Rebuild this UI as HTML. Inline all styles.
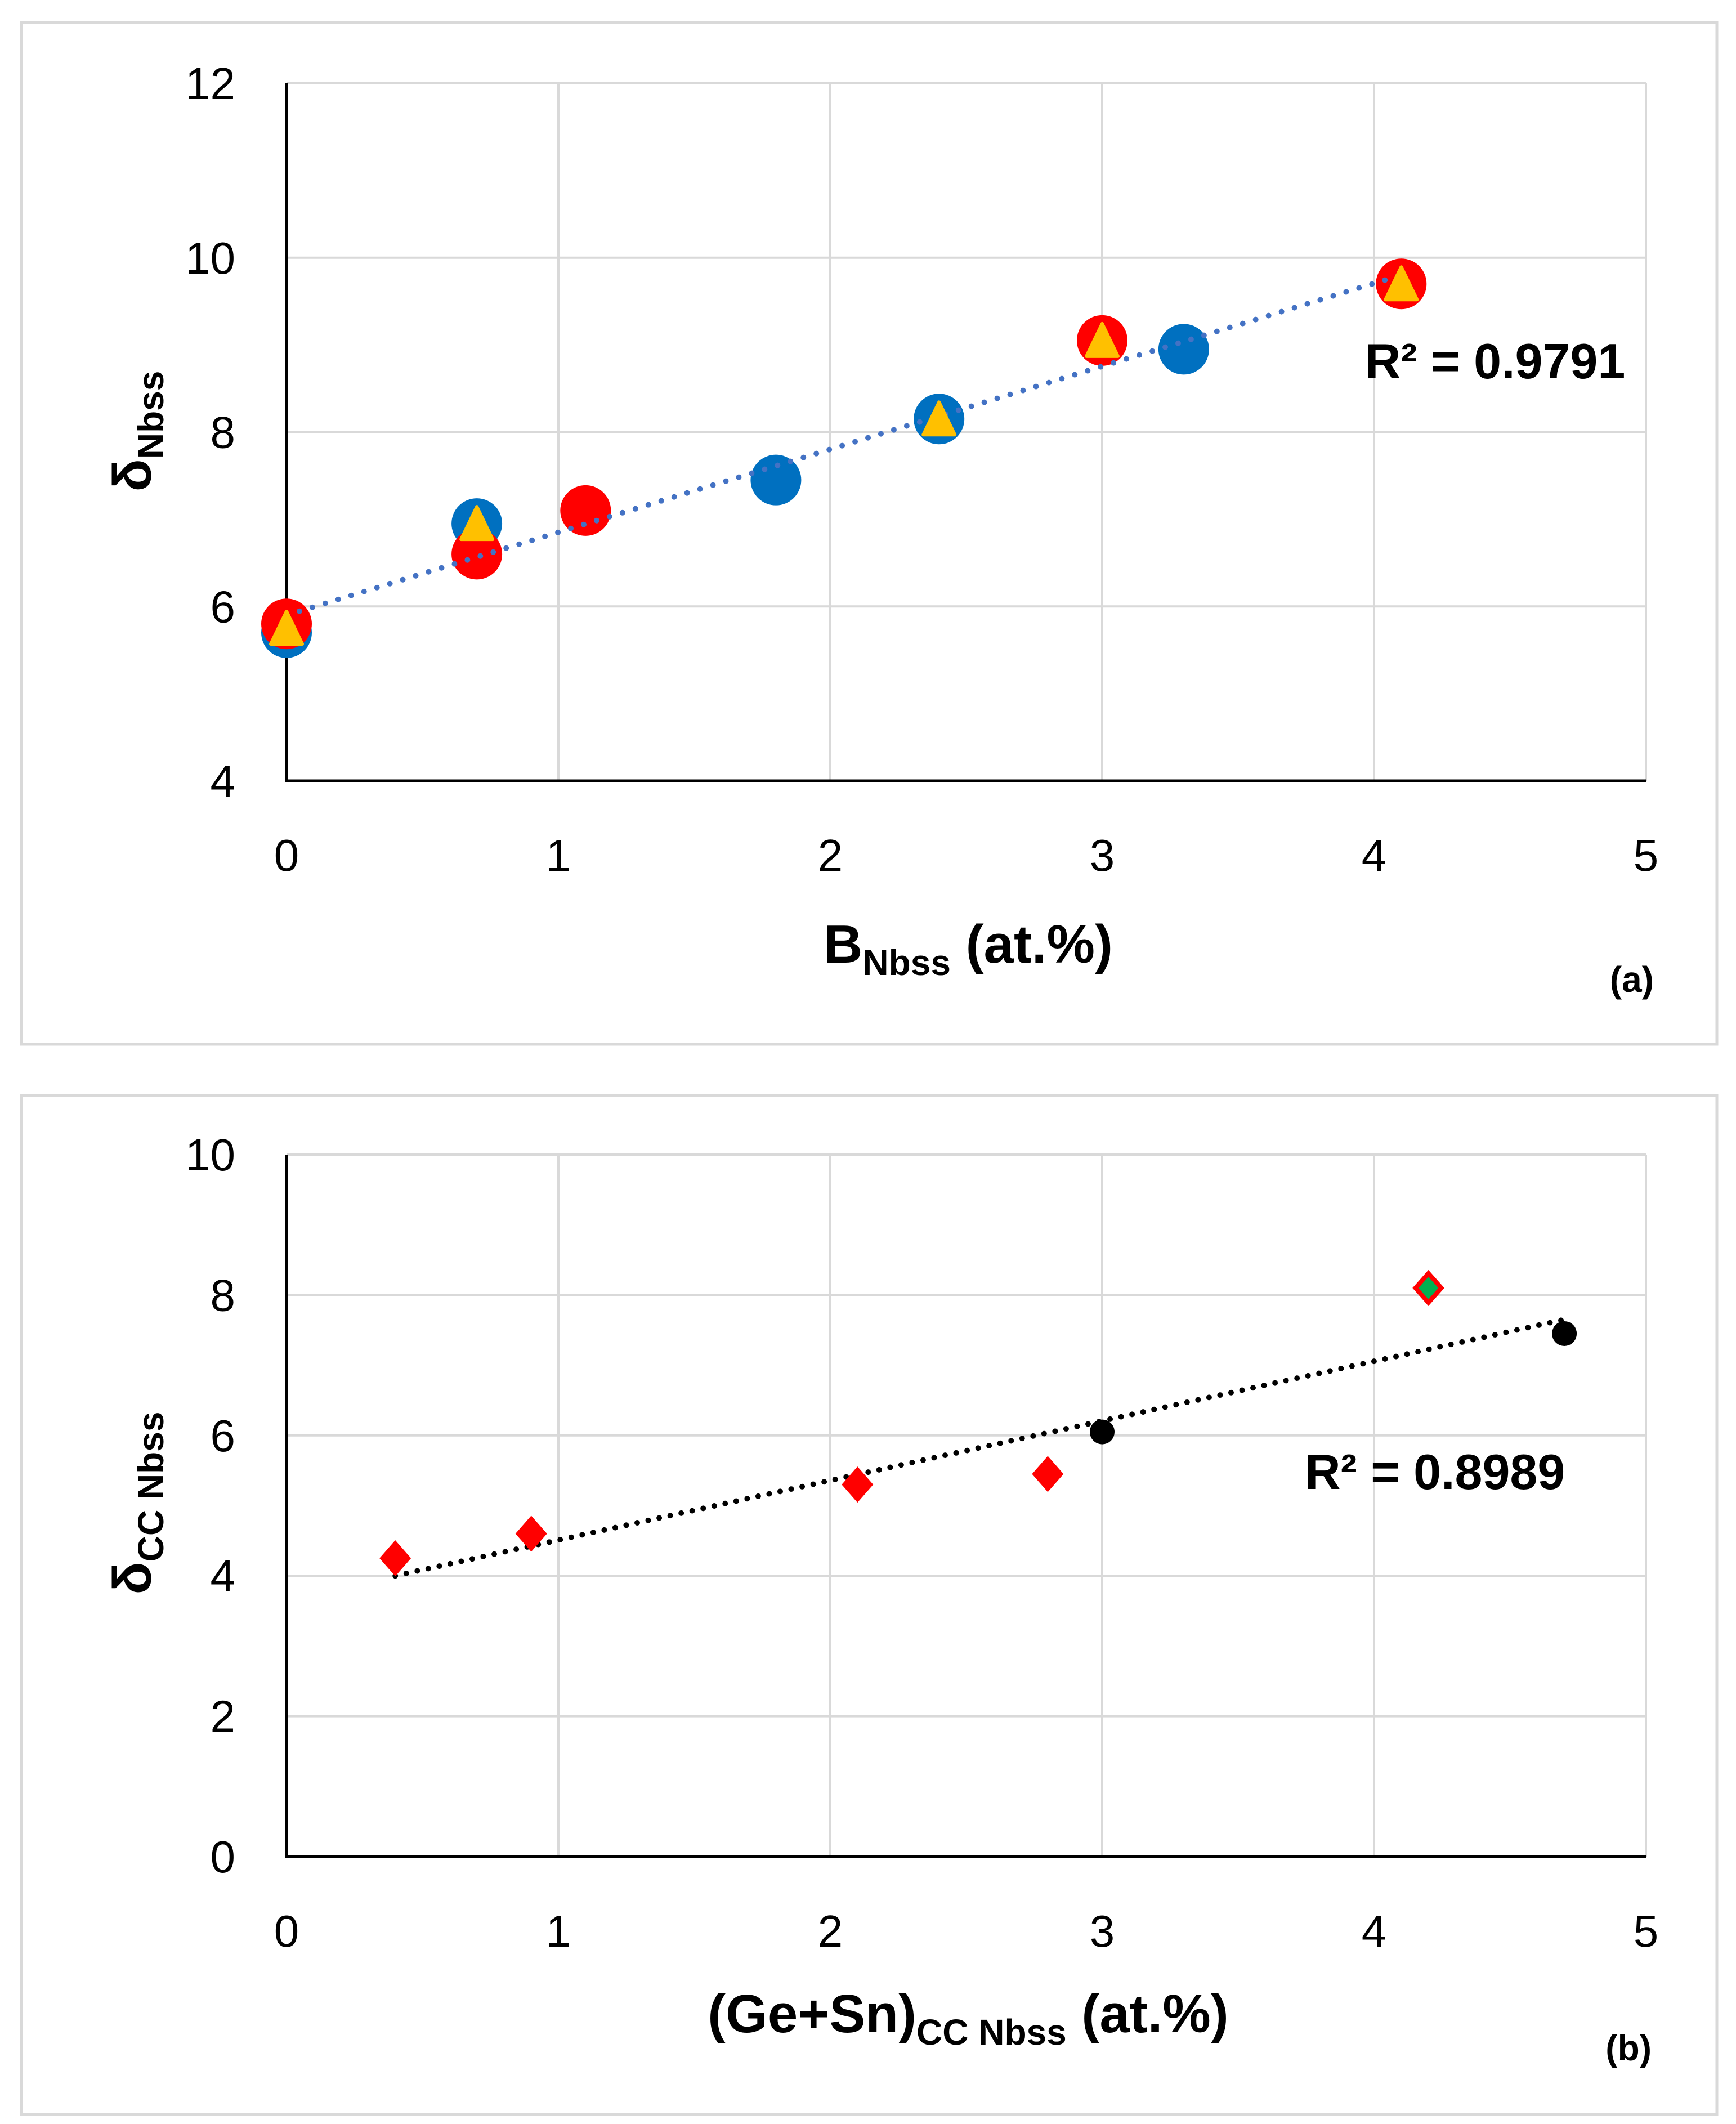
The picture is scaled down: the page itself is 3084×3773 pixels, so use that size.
<!DOCTYPE html>
<html><head><meta charset="utf-8"><style>
body{margin:0;background:#fff}
svg{display:block}
text{font-family:"Liberation Sans",sans-serif;fill:#000}
</style></head><body>
<svg id="s" width="3084" height="3773" xmlns="http://www.w3.org/2000/svg">
<rect x="38" y="40" width="3012" height="1815" fill="#fff" stroke="#d9d9d9" stroke-width="5"/>
<rect x="38" y="1946" width="3012" height="1810" fill="#fff" stroke="#d9d9d9" stroke-width="5"/>
<g id="ga"></g><g id="gb"></g>
<text x="1720" y="1710" font-size="96" font-weight="bold" text-anchor="middle">B<tspan font-size="64" dy="22">Nbss</tspan><tspan dy="-22"> (at.%)</tspan></text>
<text transform="translate(268,766) rotate(-90)" font-size="96" font-weight="bold" text-anchor="middle">δ<tspan font-size="64" dy="22">Nbss</tspan></text>
<text x="2425" y="672" font-size="88" font-weight="bold">R² = 0.9791</text>
<text x="2938" y="1762" font-size="64" font-weight="bold" text-anchor="end">(a)</text>
<text x="1720" y="3610" font-size="96" font-weight="bold" text-anchor="middle">(Ge+Sn)<tspan font-size="64" dy="22">CC Nbss</tspan><tspan dy="-22"> (at.%)</tspan></text>
<text transform="translate(268,2670) rotate(-90)" font-size="96" font-weight="bold" text-anchor="middle">δ<tspan font-size="64" dy="22">CC Nbss</tspan></text>
<text x="2318" y="2645" font-size="88" font-weight="bold">R² = 0.8989</text>
<text x="2934" y="3660" font-size="64" font-weight="bold" text-anchor="end">(b)</text>
</svg>
<script>
const xTicks=[0,1,2,3,4,5];
const yTicksA=[4,6,8,10,12];
const yTicksB=[0,2,4,6,8,10];
const blueX=[0,0.7,1.8,2.4,3.3];
const blueY=[5.7,6.95,7.45,8.15,8.95];
const redX=[0,0.7,1.1,3,4.1];
const redY=[5.8,6.6,7.1,9.05,9.7];
const triX=[0,0.7,2.4,3,4.1];
const triY=[5.75,6.95,8.15,9.05,9.7];
const trendAX=[0,4.1];
const trendAY=[5.9,9.8];
const diaX=[0.4,0.9,2.1,2.8];
const diaY=[4.25,4.6,5.3,5.45];
const greenX=[4.2];
const greenY=[8.1];
const blackX=[3,4.7];
const blackY=[6.05,7.45];
const trendBX=[0.4,4.7];
const trendBY=[4.0,7.65];
const NS='http://www.w3.org/2000/svg';
function mk(p,t,a){const e=document.createElementNS(NS,t);for(const k in a)e.setAttribute(k,a[k]);p.appendChild(e);return e;}
function panel(g,y0px,y1px,ymin,ymax,yt,id){
 const X=v=>509+v*483, Y=v=>y1px-(v-ymin)/(ymax-ymin)*(y1px-y0px);
 xTicks.forEach(v=>{if(v>0){const l=mk(g,'line',{x1:X(v),x2:X(v),y1:y0px,y2:y1px,stroke:'#d9d9d9','stroke-width':4});
 
 }
 const t=mk(g,'text',{x:X(v),y:y1px+160,'font-size':80,'text-anchor':'middle'});t.textContent=v;
 
 });
 yt.forEach(v=>{if(v>ymin){const l=mk(g,'line',{x1:509,x2:X(5),y1:Y(v),y2:Y(v),stroke:'#d9d9d9','stroke-width':4});
 
 }
 const t=mk(g,'text',{x:418,y:Y(v)+28,'font-size':80,'text-anchor':'end'});t.textContent=v;
 
 });
 const ax=mk(g,'path',{d:`M509 ${y0px} V${y1px} H${X(5)}`,fill:'none',stroke:'#000','stroke-width':5});
 
 
 return [X,Y];
}
const ga=document.getElementById('ga'),gb=document.getElementById('gb');
let [XA,YA]=panel(ga,148,1387,4,12,yTicksA,'a');
blueX.forEach((v,i)=>{const c=mk(ga,'circle',{cx:XA(v),cy:YA(blueY[i]),r:45,fill:'#0070c0'});
 
 });
redX.forEach((v,i)=>{const c=mk(ga,'circle',{cx:XA(v),cy:YA(redY[i]),r:45,fill:'#ff0000'});
 
 });
let tla=mk(ga,'line',{x1:XA(trendAX[0]),y1:YA(trendAY[0]),x2:XA(trendAX[1]),y2:YA(trendAY[1]),stroke:'#4472c4','stroke-width':10,'stroke-linecap':'round','stroke-dasharray':'0 24'});


triX.forEach((v,i)=>{const x=XA(v),y=YA(triY[i]);const p=mk(ga,'path',{d:`M${x} ${y-30} L${x+28} ${y+28} L${x-28} ${y+28}Z`,fill:'#ffc000',stroke:'#ffc000','stroke-width':6,'stroke-linejoin':'round'});
 
 });
let [XB,YB]=panel(gb,2051,3298,0,10,yTicksB,'b');
let tlb=mk(gb,'line',{x1:XB(trendBX[0]),y1:YB(trendBY[0]),x2:XB(trendBX[1]),y2:YB(trendBY[1]),stroke:'#000','stroke-width':10,'stroke-linecap':'round','stroke-dasharray':'0 20'});


diaX.forEach((v,i)=>{const x=XB(v),y=YB(diaY[i]);const p=mk(gb,'path',{d:`M${x} ${y-32} L${x+28} ${y} L${x} ${y+32} L${x-28} ${y}Z`,fill:'#ff0000'});
 
 });
greenX.forEach((v,i)=>{const x=XB(v),y=YB(greenY[i]);const p=mk(gb,'path',{d:`M${x} ${y-26} L${x+23} ${y} L${x} ${y+26} L${x-23} ${y}Z`,fill:'#00b050',stroke:'#ff0000','stroke-width':8});
 
 });
blackX.forEach((v,i)=>{const c=mk(gb,'circle',{cx:XB(v),cy:YB(blackY[i]),r:22,fill:'#000'});
 
 });
</script>
</body></html>
